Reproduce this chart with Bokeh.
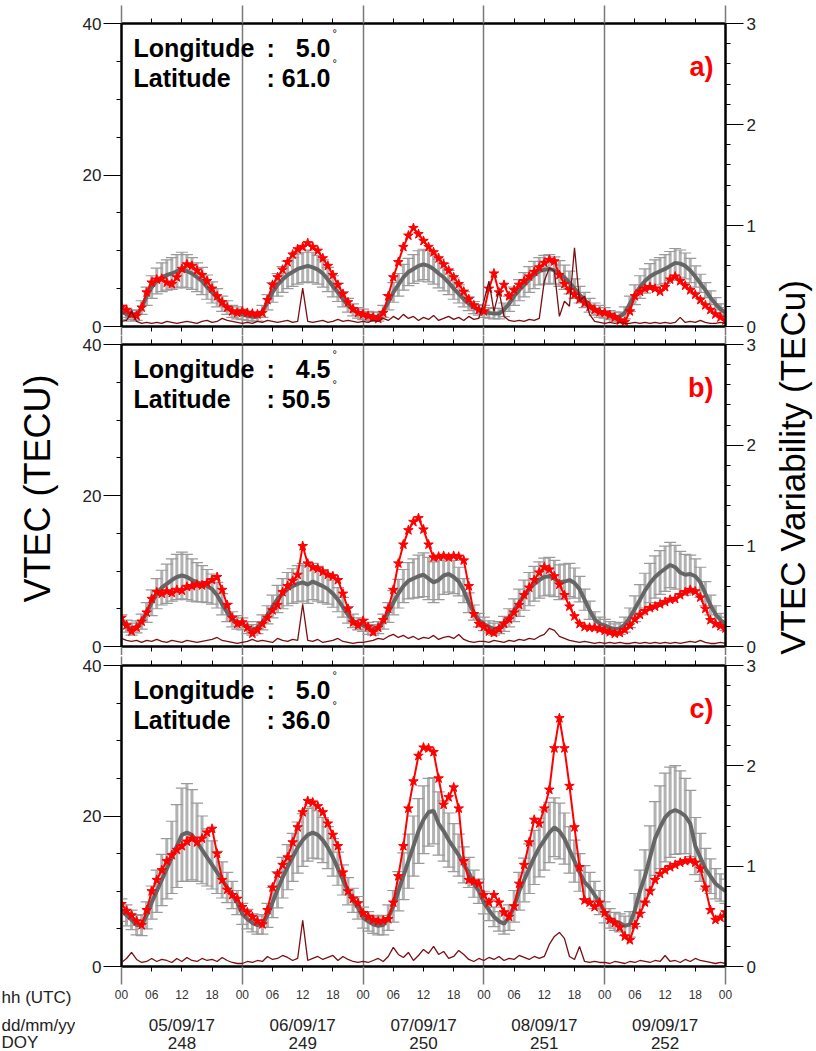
import math
from bokeh.plotting import figure
from bokeh.models import (Range1d, LinearAxis, FixedTicker, Grid, Label, Whisker,
                          TeeHead, ColumnDataSource, CustomLabelingPolicy)
from bokeh.layouts import row, column
from bokeh.embed import file_html
from bokeh.resources import INLINE

# ---------------- data (hourly, 05/09/17 00 UTC -> 10/09/17 00 UTC) ----------------
hh_labels = ["00", "06", "12", "18"] * 5 + ["00"]
dates = ["05/09/17", "06/09/17", "07/09/17", "08/09/17", "09/09/17"]
doys = ["248", "249", "250", "251", "252"]

# panel a) lon 5.0, lat 61.0
a_vtec = [2.6,2.2,1.6,1.4,2.5,4.5,5.8,6.2,6.3,5.8,5.6,6.5,7.6,8.2,8.0,7.4,6.8,6.0,5.0,4.0,3.2,2.5,2.0,1.8,
          2.0,1.8,1.7,1.6,1.8,3.5,5.5,6.5,7.5,8.5,9.5,10.2,10.5,11.0,10.5,10.0,9.0,8.0,6.8,5.5,4.3,3.2,2.3,1.8,
          1.6,1.4,1.2,1.0,1.8,4.0,6.5,8.5,10.5,12.0,13.0,12.2,11.3,10.5,9.8,9.0,8.2,7.4,6.5,5.6,4.6,3.6,2.8,2.2,
          2.0,5.0,7.0,4.5,5.5,4.0,4.8,5.5,6.0,6.6,7.2,7.8,8.4,8.8,8.6,6.8,5.6,4.8,4.2,3.6,3.1,2.6,2.2,1.9,
          1.8,1.5,1.2,0.8,0.6,2.0,4.0,4.6,5.0,5.2,5.0,4.6,5.2,6.2,6.6,6.0,5.4,4.8,4.2,3.5,2.8,2.2,1.6,1.2,0.8]
a_mean = [2.0,1.6,1.4,1.5,2.5,4.0,5.2,6.0,6.5,6.8,7.0,7.3,7.5,7.3,7.0,6.5,6.0,5.2,4.5,3.8,3.0,2.5,2.0,1.8,
          1.6,1.4,1.3,1.3,2.0,3.2,4.5,5.5,6.2,6.8,7.2,7.6,7.8,8.0,7.8,7.5,7.0,6.2,5.3,4.5,3.6,2.8,2.2,1.8,
          1.6,1.4,1.3,1.3,2.0,3.2,4.5,5.5,6.5,7.2,7.6,8.0,8.2,8.0,7.6,7.0,6.5,5.8,5.0,4.3,3.6,3.0,2.5,2.2,
          2.0,1.8,1.7,1.7,2.2,3.0,4.0,4.8,5.5,6.2,6.8,7.3,7.5,7.6,7.4,7.0,6.5,5.8,5.0,4.2,3.5,2.8,2.3,2.0,
          1.8,1.5,1.3,1.3,1.8,3.0,4.2,5.2,6.0,6.6,7.0,7.3,7.6,8.0,8.4,8.3,8.0,7.4,6.6,5.7,4.8,3.8,3.0,2.3,1.8]
a_std = [0.8,0.7,0.7,0.7,0.9,1.2,1.5,1.7,1.9,2.0,2.1,2.2,2.3,2.2,2.1,1.9,1.8,1.6,1.4,1.2,1.0,0.9,0.8,0.8,
         0.7,0.6,0.6,0.6,0.8,1.0,1.3,1.5,1.7,1.8,1.9,2.0,2.0,2.1,2.0,1.9,1.8,1.6,1.4,1.2,1.0,0.9,0.8,0.7,
         0.7,0.6,0.6,0.6,0.8,1.0,1.3,1.5,1.7,1.8,1.9,2.0,2.0,2.1,2.0,1.9,1.8,1.6,1.4,1.2,1.0,0.9,0.8,0.7,
         0.8,0.7,0.7,0.7,0.9,1.0,1.2,1.4,1.6,1.7,1.8,1.8,1.9,1.9,1.8,1.7,1.6,1.5,1.3,1.1,1.0,0.9,0.8,0.8,
         0.7,0.6,0.6,0.6,0.8,1.0,1.3,1.5,1.6,1.7,1.8,1.8,1.9,1.9,1.9,1.8,1.7,1.6,1.4,1.2,1.0,0.9,0.8,0.7,0.7]
a_var = [0.05,0.06,0.15,0.05,0.03,0.04,0.03,0.04,0.03,0.05,0.04,0.03,0.04,0.05,0.04,0.03,0.05,0.06,0.04,0.05,0.08,0.06,0.05,0.04,
         0.03,0.04,0.03,0.05,0.04,0.06,0.05,0.04,0.05,0.06,0.04,0.05,0.38,0.05,0.04,0.05,0.06,0.04,0.05,0.07,0.05,0.06,0.05,0.04,
         0.05,0.04,0.06,0.05,0.08,0.06,0.10,0.07,0.12,0.08,0.10,0.06,0.09,0.07,0.11,0.06,0.08,0.10,0.07,0.09,0.06,0.10,0.07,0.08,
         0.25,0.45,0.15,0.35,0.10,0.06,0.05,0.06,0.05,0.07,0.06,0.08,0.45,0.58,0.55,0.10,0.25,0.20,0.78,0.25,0.30,0.12,0.05,0.04,
         0.03,0.04,0.03,0.04,0.03,0.03,0.04,0.03,0.04,0.03,0.04,0.03,0.04,0.03,0.04,0.09,0.04,0.05,0.04,0.06,0.04,0.03,0.03,0.04,0.03]

# panel b) lon 4.5, lat 50.5
b_vtec = [3.8,2.8,2.0,2.5,3.3,4.5,6.3,7.2,7.0,7.3,7.1,7.5,7.4,7.9,8.0,8.2,8.1,8.4,8.8,9.2,7.5,5.5,3.8,3.0,
          3.2,2.5,1.7,2.2,3.0,3.8,4.8,5.5,7.2,8.0,8.7,9.5,13.3,11.0,10.5,10.3,9.9,9.5,9.3,8.8,7.0,5.0,3.2,2.8,
          3.4,2.6,1.9,2.5,3.5,5.0,7.5,11.0,13.5,15.4,16.5,17.0,15.5,13.5,11.8,11.9,12.0,11.8,12.0,11.9,11.4,8.0,4.3,3.0,
          2.6,2.0,1.8,2.3,3.0,3.6,4.5,5.5,6.8,7.8,8.8,9.8,10.5,10.2,9.3,8.2,6.8,5.3,4.0,3.0,2.6,2.5,2.5,2.3,
          2.1,1.9,1.7,1.8,2.2,2.8,3.6,4.2,4.7,5.1,5.3,5.6,5.9,6.2,6.3,6.8,7.2,7.5,7.3,6.5,5.0,3.5,3.0,2.7,2.4]
b_mean = [3.3,2.7,2.3,2.6,3.3,4.5,5.8,7.0,7.8,8.3,8.8,9.2,9.4,9.2,8.8,8.5,8.3,8.0,7.6,6.8,5.6,4.5,3.6,3.2,
          3.0,2.5,2.2,2.5,3.2,4.2,5.3,6.3,7.0,7.6,8.0,8.3,8.5,8.2,8.6,8.3,8.0,7.6,7.0,6.2,5.2,4.2,3.4,3.0,
          2.8,2.4,2.2,2.5,3.3,4.5,5.8,7.0,8.0,8.7,9.0,9.3,9.5,9.0,8.5,8.8,9.4,9.6,9.2,8.6,7.4,5.8,4.5,3.5,
          3.0,2.6,2.3,2.5,3.0,3.8,4.8,5.8,6.8,7.6,8.3,8.8,9.2,9.3,9.0,8.5,8.6,8.8,8.4,7.6,6.2,4.8,3.6,3.0,
          2.8,2.5,2.3,2.4,2.9,3.8,5.0,6.2,7.4,8.4,9.2,9.8,10.3,10.8,10.5,9.8,9.5,9.6,9.3,8.5,7.0,5.5,4.3,3.5,3.0]
b_std = [0.9,0.8,0.8,0.8,1.0,1.3,1.7,2.0,2.3,2.6,2.8,3.0,3.1,3.0,2.8,2.6,2.4,2.2,2.0,1.7,1.4,1.2,1.0,0.9,
         0.8,0.8,0.7,0.8,1.0,1.2,1.5,1.8,2.0,2.2,2.3,2.4,2.5,2.5,2.4,2.3,2.2,2.0,1.8,1.6,1.3,1.1,0.9,0.8,
         0.8,0.8,0.7,0.8,1.0,1.3,1.6,1.9,2.2,2.4,2.6,2.8,2.9,2.8,2.7,2.6,2.5,2.4,2.2,1.9,1.6,1.3,1.0,0.9,
         0.9,0.8,0.8,0.8,1.0,1.2,1.5,1.8,2.0,2.2,2.3,2.4,2.5,2.5,2.4,2.3,2.3,2.2,2.0,1.7,1.4,1.2,1.0,0.9,
         0.8,0.8,0.7,0.8,1.0,1.3,1.7,2.0,2.3,2.6,2.8,2.9,3.0,3.0,2.9,2.8,2.7,2.5,2.3,2.0,1.6,1.3,1.1,0.9,0.9]
b_var = [0.08,0.06,0.05,0.06,0.04,0.06,0.05,0.07,0.05,0.04,0.06,0.05,0.04,0.06,0.05,0.04,0.05,0.06,0.07,0.09,0.06,0.05,0.04,0.03,
         0.04,0.05,0.07,0.05,0.06,0.05,0.04,0.08,0.06,0.05,0.07,0.06,0.42,0.06,0.05,0.07,0.04,0.05,0.06,0.08,0.05,0.04,0.03,0.04,
         0.04,0.05,0.06,0.08,0.07,0.10,0.12,0.09,0.11,0.08,0.10,0.07,0.09,0.08,0.11,0.07,0.09,0.10,0.08,0.12,0.07,0.05,0.04,0.05,
         0.05,0.04,0.06,0.05,0.04,0.06,0.05,0.07,0.06,0.08,0.07,0.10,0.12,0.18,0.16,0.10,0.08,0.06,0.05,0.04,0.05,0.04,0.03,0.04,
         0.03,0.04,0.03,0.04,0.03,0.03,0.04,0.03,0.04,0.03,0.04,0.03,0.04,0.03,0.04,0.03,0.04,0.05,0.04,0.06,0.04,0.03,0.03,0.04,0.03]

# panel c) lon 5.0, lat 36.0
c_vtec = [8.3,7.4,6.8,6.0,5.5,7.5,10.0,11.5,12.8,14.0,14.8,15.5,16.0,16.6,17.0,16.5,17.0,17.8,18.3,15.0,11.5,10.2,9.5,9.0,
          7.9,7.2,6.6,6.0,5.6,7.5,10.5,12.3,13.5,14.5,16.5,18.5,20.5,22.0,21.8,21.3,20.5,19.0,17.5,16.0,12.5,10.0,9.0,8.4,
          7.1,6.6,6.2,6.0,6.1,6.3,8.5,12.0,16.0,21.0,24.6,28.0,29.1,29.0,28.5,25.0,21.5,22.5,23.8,21.0,14.0,11.5,11.3,11.0,
          9.5,8.5,9.5,8.5,7.2,6.6,8.0,11.0,13.5,16.5,19.5,19.0,21.0,23.5,29.0,33.0,29.0,24.0,18.5,13.2,8.8,8.5,7.9,8.5,
          7.1,6.2,5.8,5.2,4.0,3.5,5.5,7.0,8.5,10.0,11.5,12.3,12.8,13.2,13.5,13.8,14.0,14.1,13.8,13.0,10.5,7.5,6.2,6.5,7.2]
c_mean = [7.5,6.8,6.2,5.5,5.5,6.8,8.5,10.0,11.5,13.0,14.5,16.0,17.5,17.8,17.5,16.5,15.5,14.5,13.5,12.5,11.5,10.5,9.5,8.5,
          7.0,6.3,5.8,5.5,5.6,6.8,8.5,10.2,11.8,13.2,14.5,15.8,16.8,17.5,17.8,17.5,16.8,15.8,14.5,13.0,11.5,10.0,8.8,7.8,
          6.5,6.0,5.6,5.4,5.5,6.5,8.0,10.0,12.0,14.0,16.0,18.0,19.5,20.5,20.7,19.0,18.0,16.8,15.8,14.8,13.5,12.5,11.0,10.0,
          8.5,7.5,6.6,6.0,5.7,6.5,8.0,10.0,11.5,13.0,14.5,15.8,16.8,17.8,18.5,18.0,17.0,15.5,14.0,12.5,11.2,10.5,9.5,8.5,
          7.2,6.4,6.0,5.8,5.4,5.6,7.5,10.0,12.0,14.5,17.0,18.5,19.8,20.5,20.8,20.5,20.0,19.0,16.0,14.5,13.0,12.0,11.0,10.5,10.0]
c_std = [1.5,1.4,1.3,1.3,1.4,1.8,2.2,2.8,3.4,4.0,4.8,5.5,6.2,6.5,6.0,5.2,4.5,3.8,3.2,2.8,2.4,2.0,1.8,1.6,
         1.4,1.3,1.2,1.2,1.3,1.6,2.0,2.4,2.7,3.0,3.2,3.4,3.5,3.5,3.4,3.2,3.0,2.8,2.5,2.2,2.0,1.8,1.6,1.5,
         1.4,1.3,1.2,1.2,1.3,1.7,2.1,2.6,3.1,3.6,4.0,4.3,4.5,4.5,4.4,4.2,4.0,3.6,3.2,2.8,2.4,2.0,1.8,1.6,
         1.5,1.4,1.3,1.3,1.4,1.7,2.1,2.5,2.9,3.3,3.6,3.9,4.0,4.0,3.9,3.7,3.4,3.1,2.8,2.5,2.2,2.0,1.8,1.6,
         1.4,1.3,1.2,1.2,1.3,1.7,2.2,2.8,3.5,4.2,4.9,5.5,5.9,6.0,5.9,5.5,5.0,4.4,3.8,3.2,2.7,2.3,2.0,1.8,1.6]
c_var = [0.04,0.08,0.14,0.07,0.04,0.05,0.08,0.05,0.07,0.06,0.04,0.08,0.05,0.09,0.06,0.05,0.08,0.06,0.07,0.05,0.09,0.06,0.04,0.03,
         0.03,0.05,0.04,0.06,0.05,0.10,0.07,0.08,0.11,0.09,0.06,0.08,0.46,0.06,0.08,0.10,0.07,0.09,0.11,0.06,0.10,0.07,0.05,0.04,
         0.05,0.04,0.06,0.08,0.05,0.10,0.19,0.12,0.09,0.14,0.06,0.11,0.17,0.13,0.20,0.12,0.15,0.08,0.10,0.16,0.12,0.07,0.05,0.08,
         0.06,0.09,0.07,0.10,0.06,0.08,0.07,0.11,0.09,0.07,0.10,0.08,0.10,0.22,0.30,0.34,0.28,0.10,0.07,0.20,0.05,0.04,0.05,0.04,
         0.04,0.03,0.05,0.04,0.03,0.05,0.04,0.06,0.05,0.04,0.06,0.05,0.11,0.05,0.06,0.04,0.07,0.05,0.08,0.06,0.05,0.04,0.03,0.04,0.03]

# ---------------- styling ----------------
FONT = "Liberation Sans"
RED = "#ff0000"
DARKRED = "#7a0f12"
GREY_BAR = "#b2b2b2"
GREY_CAP = "#9a9a9a"
GREY_LINE = "#666666"
DAYLINE = "#7a7a7a"

day_ticks = [0, 24, 48, 72, 96, 120]
hour_ticks = list(range(0, 121, 6))
minor_hours = [h for h in hour_ticks if h % 24]
day_centres = [12, 36, 60, 84, 108]

LEFT_STRIP = 75
RIGHT_STRIP = 48
PANEL_W = 816 - LEFT_STRIP - RIGHT_STRIP
BL, BR = 46, 43

NO_LABELS = "for (let i = 0; i < indices.size; i++) { indices.unset(i) }\nreturn indices"


def x_axis(tick_out):
    return LinearAxis(ticker=FixedTicker(ticks=day_ticks, minor_ticks=minor_hours),
                      major_tick_out=tick_out, major_tick_in=0, minor_tick_out=5, minor_tick_in=0,
                      major_tick_line_color=DAYLINE, major_tick_line_width=1.5,
                      minor_tick_line_color="black", minor_tick_line_width=1,
                      axis_line_width=2, axis_line_color="black",
                      major_label_policy=CustomLabelingPolicy(code=NO_LABELS),
                      major_label_text_font_size="0px", major_label_standoff=0)


def panel(vtec, mean, std, var, lon, lat, tag, height, btop, bbot, top_out, bot_out, last=False):
    p = figure(width=PANEL_W, height=height, x_range=Range1d(0, 120), y_range=Range1d(0, 40),
               x_axis_type=None, y_axis_type=None, output_backend="svg", toolbar_location=None,
               min_border_left=BL, min_border_right=BR, min_border_top=btop, min_border_bottom=bbot)
    p.extra_y_ranges = {"var": Range1d(0, 3)}
    p.outline_line_color = "black"
    p.outline_line_width = 2

    fh = height - btop - bbot

    left = LinearAxis(ticker=FixedTicker(ticks=[0, 20, 40], minor_ticks=[5, 10, 15, 25, 30, 35]),
                      major_tick_out=18, major_tick_in=0, minor_tick_out=5, minor_tick_in=0,
                      axis_line_width=2, major_tick_line_width=1.2,
                      major_label_text_font=FONT, major_label_text_font_size="17px",
                      major_label_text_color="#222222", major_label_standoff=2)
    p.add_layout(left, "left")
    right = LinearAxis(y_range_name="var",
                       ticker=FixedTicker(ticks=[0, 1, 2, 3],
                                          minor_ticks=[0.2, 0.4, 0.6, 0.8, 1.2, 1.4, 1.6, 1.8,
                                                       2.2, 2.4, 2.6, 2.8]),
                       major_tick_out=18, major_tick_in=0, minor_tick_out=5, minor_tick_in=0,
                       axis_line_width=2, major_tick_line_width=1.2,
                       major_label_text_font=FONT, major_label_text_font_size="17px",
                       major_label_text_color="#222222", major_label_standoff=3)
    p.add_layout(right, "right")
    p.add_layout(x_axis(top_out), "above")
    p.add_layout(x_axis(bot_out), "below")

    if last:
        hh_ax = LinearAxis(ticker=FixedTicker(ticks=hour_ticks),
                           major_label_overrides={h: lab for h, lab in zip(hour_ticks, hh_labels)},
                           major_tick_out=0, major_tick_in=0, minor_tick_out=0, minor_tick_in=0,
                           axis_line_color=None, major_tick_line_color=None, minor_tick_line_color=None,
                           major_label_text_font=FONT, major_label_text_font_size="12px",
                           major_label_text_color="#333333", major_label_standoff=5)
        p.add_layout(hh_ax, "below")

    p.add_layout(Grid(dimension=0, ticker=FixedTicker(ticks=day_ticks[1:-1]),
                      grid_line_color=DAYLINE, grid_line_width=1.5))

    hours = list(range(len(vtec)))
    hm = list(range(len(mean)))
    src = ColumnDataSource(dict(x=hm, mean=mean,
                                up=[m + s for m, s in zip(mean, std)],
                                lo=[m - s for m, s in zip(mean, std)]))
    wh = Whisker(source=src, base="x", upper="up", lower="lo", dimension="height",
                 line_color=GREY_BAR, line_width=3,
                 upper_head=TeeHead(size=12, line_color=GREY_CAP, line_width=1.2),
                 lower_head=TeeHead(size=12, line_color=GREY_CAP, line_width=1.2))
    p.add_layout(wh)
    p.line("x", "mean", source=src, line_color=GREY_LINE, line_width=4)

    p.line(hours, vtec, line_color=RED, line_width=2)
    p.scatter(hours, vtec, marker="star", size=10, fill_color=RED, line_color=RED, line_width=1)

    p.line(list(range(len(var))), var, y_range_name="var", line_color=DARKRED, line_width=1.3)

    # annotations
    y1 = fh - 24
    y2 = fh - 54
    lab_kw = dict(x_units="screen", y_units="screen", text_font=FONT, text_font_style="bold",
                  text_font_size="25px", text_color="black", text_baseline="alphabetic")
    p.add_layout(Label(x=12, y=y1, text="Longitude", **lab_kw))
    p.add_layout(Label(x=12, y=y2, text="Latitude", **lab_kw))
    p.add_layout(Label(x=145, y=y1, text=":", **lab_kw))
    p.add_layout(Label(x=145, y=y2, text=":", **lab_kw))
    p.add_layout(Label(x=209, y=y1, text=lon, text_align="right", **lab_kw))
    p.add_layout(Label(x=209, y=y2, text=lat, text_align="right", **lab_kw))
    for yy in (y1, y2):
        p.add_layout(Label(x=211, y=yy + 9, x_units="screen", y_units="screen", text="°",
                           text_font=FONT, text_font_size="11px", text_color="black"))
    p.add_layout(Label(x=592, y=fh - 58, x_units="screen", y_units="screen", text=tag,
                       text_align="right", text_font=FONT, text_font_style="bold",
                       text_font_size="27px", text_color=RED))
    return p


pa = panel(a_vtec, a_mean, a_std, a_var, "5.0", "61.0", "a)", 335, 23, 9, 18, 9)
pb = panel(b_vtec, b_mean, b_std, b_var, "4.5", "50.5", "b)", 320, 9, 9, 9, 9)
pc = panel(c_vtec, c_mean, c_std, c_var, "5.0", "36.0", "c)", 351, 10, 40, 9, 18, last=True)

# row of dates / day-of-year under the bottom panel, on the same hour scale
pd = figure(width=PANEL_W, height=45, x_range=Range1d(0, 120), y_range=Range1d(0, 1),
            x_axis_type=None, y_axis_type=None, output_backend="svg", toolbar_location=None,
            min_border_left=BL, min_border_right=BR, min_border_top=0, min_border_bottom=0)
pd.outline_line_color = None
for xc, d, n in zip(day_centres, dates, doys):
    pd.add_layout(Label(x=xc, y=26, x_units="data", y_units="screen", text=d,
                        text_align="center", text_baseline="middle",
                        text_font=FONT, text_font_size="17px", text_color="#222222"))
    pd.add_layout(Label(x=xc, y=9, x_units="data", y_units="screen", text=n,
                        text_align="center", text_baseline="middle",
                        text_font=FONT, text_font_size="17px", text_color="#222222"))


def strip(w):
    s = figure(width=w, height=1051, x_range=Range1d(0, 1), y_range=Range1d(0, 1),
               x_axis_type=None, y_axis_type=None, output_backend="svg",
               toolbar_location=None, min_border=0)
    s.outline_line_color = None
    return s


ls = strip(LEFT_STRIP)
ls.add_layout(Label(x=37, y=1051 - 488, x_units="screen", y_units="screen", text="VTEC (TECU)",
                    angle=math.pi / 2, text_align="center", text_baseline="middle",
                    text_font=FONT, text_font_size="36px", text_color="black"))
for txt, yc in (("hh (UTC)", 997), ("dd/mm/yy", 1025), ("DOY", 1042)):
    ls.add_layout(Label(x=1, y=1051 - yc, x_units="screen", y_units="screen", text=txt,
                        text_align="left", text_baseline="middle",
                        text_font=FONT, text_font_size="17px", text_color="#222222"))

rs = strip(RIGHT_STRIP)
rs.add_layout(Label(x=24, y=1051 - 467, x_units="screen", y_units="screen",
                    text="VTEC Variability (TECu)", angle=math.pi / 2,
                    text_align="center", text_baseline="middle",
                    text_font=FONT, text_font_size="35px", text_color="black"))

layout = row(ls, column(pa, pb, pc, pd), rs)
open("out.html", "w").write(file_html(layout, INLINE))
